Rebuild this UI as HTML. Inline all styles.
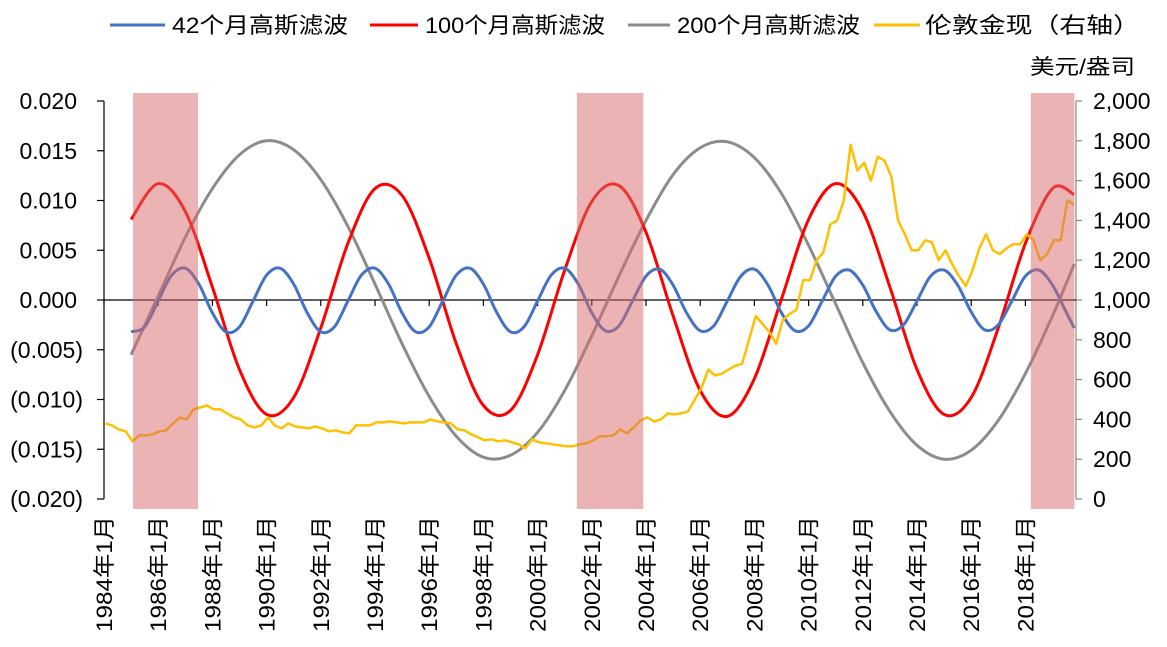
<!DOCTYPE html>
<html><head><meta charset="utf-8">
<style>
body{margin:0;background:#fff;width:1167px;height:642px;overflow:hidden;font-family:"Liberation Sans","Noto Sans CJK SC",sans-serif;}
svg text{font-family:"Liberation Sans","Noto Sans CJK SC",sans-serif;fill:#000;}
</style></head>
<body>
<svg id="chart" width="1167" height="642" xmlns="http://www.w3.org/2000/svg"></svg>
<script>
const blueValues = [-0.0032,-0.0027,-0.0001,0.0025,0.0032,0.0016,-0.0013,
 -0.0032,-0.0027,-0.0001,0.0025,0.0032,0.0016,-0.0013,
 -0.0032,-0.0027,-0.0001,0.0025,0.0032,0.0016,-0.0013,
 -0.0032,-0.0027,-0.0001,0.0025,0.0032,0.0016,-0.0013,
 -0.0032,-0.0027,-0.0001,0.0025,0.0032,0.0016,-0.0013,
 -0.0031,-0.0026,-0.0001,0.0024,0.0031,0.0015,-0.0013,
 -0.0031,-0.0026,-0.0001,0.0024,0.0031,0.0015,-0.0013,
 -0.0031,-0.0026,-0.0001,0.0024,0.0030,0.0015,-0.0012,
 -0.0030,-0.0025,-0.0001,0.0024,0.0030,0.0015,-0.0012,
 -0.0030,-0.0025,-0.0001,0.0024,0.0030,0.0015,-0.0012,-0.0028];
const redValues = [0.0081,0.0117,0.0089,0.0013,-0.0070,-0.0115,-0.0098,-0.0028,0.0057,0.0112,0.0105,0.0042,-0.0044,-0.0106,-0.0111,-0.0055,0.0030,0.0099,0.0115,0.0068,-0.0016,-0.0091,-0.0117,-0.0079,0.0001,0.0081,0.0117,0.0089,0.0013,-0.0070,-0.0115,-0.0098,-0.0028,0.0057,0.0112,0.0106];
const grayValues = [-0.0055,0.0004,0.0063,0.0112,0.0146,0.0160,0.0151,0.0121,0.0074,0.0016,-0.0044,-0.0097,-0.0137,-0.0158,-0.0156,-0.0133,-0.0091,-0.0036,0.0024,0.0080,0.0126,0.0153,0.0159,0.0143,0.0107,0.0055,-0.0004,-0.0063,-0.0112,-0.0146,-0.0160,-0.0151,-0.0121,-0.0074,-0.0016,0.0036];
const goldValues = [380,370,350,340, 290,320,320,325, 340,345,380,410, 400,450,460,470, 450,450,430,410, 400,370,360,370, 410,370,355,380, 365,360,355,365, 355,340,345,335, 330,370,370,370, 385,385,390,385, 380,385,385,385, 400,390,385,380, 350,345,325,310, 295,300,290,295, 285,275,255,300, 285,280,275,270, 265,265,275,280, 295,315,315,320, 350,330,360,395, 410,390,400,430, 425,430,440,500, 560,650,620,630, 650,670,680,800, 920,880,840,780, 900,930,950,1100, 1100,1200,1240,1380, 1400,1500,1780,1650, 1690,1600,1720,1700, 1620,1400,1330,1250, 1250,1300,1290,1200, 1250,1180,1120,1070, 1150,1260,1330,1250, 1230,1260,1280,1280, 1330,1300,1200,1230, 1300,1300,1500,1480];
const leftTicks = ["0.020","0.015","0.010","0.005","0.000","(0.005)","(0.010)","(0.015)","(0.020)"];
const leftTickValues = [0.02,0.015,0.01,0.005,0,-0.005,-0.01,-0.015,-0.02];
const rightTicks = ["2,000","1,800","1,600","1,400","1,200","1,000","800","600","400","200","0"];
const rightTickValues = [2000,1800,1600,1400,1200,1000,800,600,400,200,0];
const xTickYears = [1984,1986,1988,1990,1992,1994,1996,1998,2000,2002,2004,2006,2008,2010,2012,2014,2016,2018];
const bandStarts = [1985.07,2001.45,2018.2];
const bandEnds = [1987.47,2003.9,1985+34.81];

const NS="http://www.w3.org/2000/svg";
const svg=document.getElementById('chart');
const X0=104,X1=1076,Y0=101,Y1=499;
const xs=t=>X0+(t-1984)*27.1;
const yl=v=>300-v*9950;
const yr=v=>Y1-v*(Y1-Y0)/2000;
function el(tag,attrs,parent){const e=document.createElementNS(NS,tag);for(const k in attrs)e.setAttribute(k,attrs[k]);(parent||svg).appendChild(e);return e;}
function smooth(pts){let d=`M${pts[0][0].toFixed(1)},${pts[0][1].toFixed(1)}`;for(let i=0;i<pts.length-1;i++){const p0=pts[Math.max(0,i-1)],p1=pts[i],p2=pts[i+1],p3=pts[Math.min(pts.length-1,i+2)];const c1=[p1[0]+(p2[0]-p0[0])/6,p1[1]+(p2[1]-p0[1])/6],c2=[p2[0]-(p3[0]-p1[0])/6,p2[1]-(p3[1]-p1[1])/6];d+=`C${c1[0].toFixed(1)},${c1[1].toFixed(1)} ${c2[0].toFixed(1)},${c2[1].toFixed(1)} ${p2[0].toFixed(1)},${p2[1].toFixed(1)}`;}return d;}

let e;
e=el('line',{x1:X0,y1:Y0,x2:X0,y2:Y1,stroke:'#000','stroke-width':1.2});

e=el('line',{x1:X1,y1:Y0,x2:X1,y2:Y1,stroke:'#888','stroke-width':1.2});

leftTickValues.forEach((v,i)=>{const y=yl(v);
 el('line',{x1:X0-7,y1:y,x2:X0,y2:y,stroke:'#000','stroke-width':1.2});
 const paren=leftTicks[i].startsWith('(');
 const t=el('text',{x:paren?83:77,y:y+8,'text-anchor':'end','font-size':23});t.textContent=leftTicks[i];
 });
rightTickValues.forEach((v,i)=>{const y=yr(v);
 el('line',{x1:X1,y1:y,x2:X1+6,y2:y,stroke:'#888','stroke-width':1.2});
 const t=el('text',{x:1093,y:y+8,'font-size':23});t.textContent=rightTicks[i];
 });
e=el('line',{x1:X0,y1:300,x2:X1,y2:300,stroke:'#000','stroke-width':1.2});

xTickYears.forEach(yv=>{const x=xs(yv);
 el('line',{x1:x,y1:300,x2:x,y2:306,stroke:'#000','stroke-width':1.2});
 const t=el('text',{x:0,y:0,'font-size':22,'text-anchor':'end',textLength:116,lengthAdjust:'spacingAndGlyphs',transform:`translate(${x+8},516) rotate(-90)`});t.textContent=yv+'年1月';
 });

const blueT=blueValues.map((v,i)=>i<70?1985+i*0.5:2019.8);
const yearT=n=>Array.from({length:n},(_,i)=>i<n-1?1985+i:2019.8);
const redT=yearT(redValues.length), grayT=yearT(grayValues.length);
function series(ts,vs,color,name){const p=el('path',{d:smooth(ts.map((t,i)=>[xs(t),yl(vs[i])])),fill:'none',stroke:color,'stroke-width':3});
 }
series(grayT,grayValues,'#8c8c8c','gray-200m-filter-line');
series(redT,redValues,'#ff0000','red-100m-filter-line');
series(blueT,blueValues,'#4472c4','blue-42m-filter-line');
const gp=goldValues.map((v,i)=>`${xs(1984.05+i*0.25).toFixed(1)},${yr(v).toFixed(1)}`).join(' ');
e=el('polyline',{points:gp,fill:'none',stroke:'#ffc000','stroke-width':2.5,'stroke-linejoin':'round'});


bandStarts.forEach((s,i)=>{const r=el('rect',{x:xs(s),y:93,width:xs(bandEnds[i])-xs(s),height:416,fill:'rgba(215,103,103,0.5)'});
 });

const leg=[[110,165,172,176,'#4472c4','42个月高斯滤波'],[370,418,425,180,'#ff0000','100个月高斯滤波'],[628,670,677,183,'#8c8c8c','200个月高斯滤波'],[874,920,925,215,'#ffc000','伦敦金现（右轴）']];
leg.forEach(l=>{const g=el('g',{});
 el('line',{x1:l[0],y1:25,x2:l[1],y2:25,stroke:l[4],'stroke-width':3},g);
 const t=el('text',{x:l[2],y:33,'font-size':22,textLength:l[3],lengthAdjust:'spacingAndGlyphs'},g);t.textContent=l[5];});
e=el('text',{x:1030,y:74,'font-size':21,textLength:105,lengthAdjust:'spacingAndGlyphs'});e.textContent='美元/盎司';

</script>
</body></html>
